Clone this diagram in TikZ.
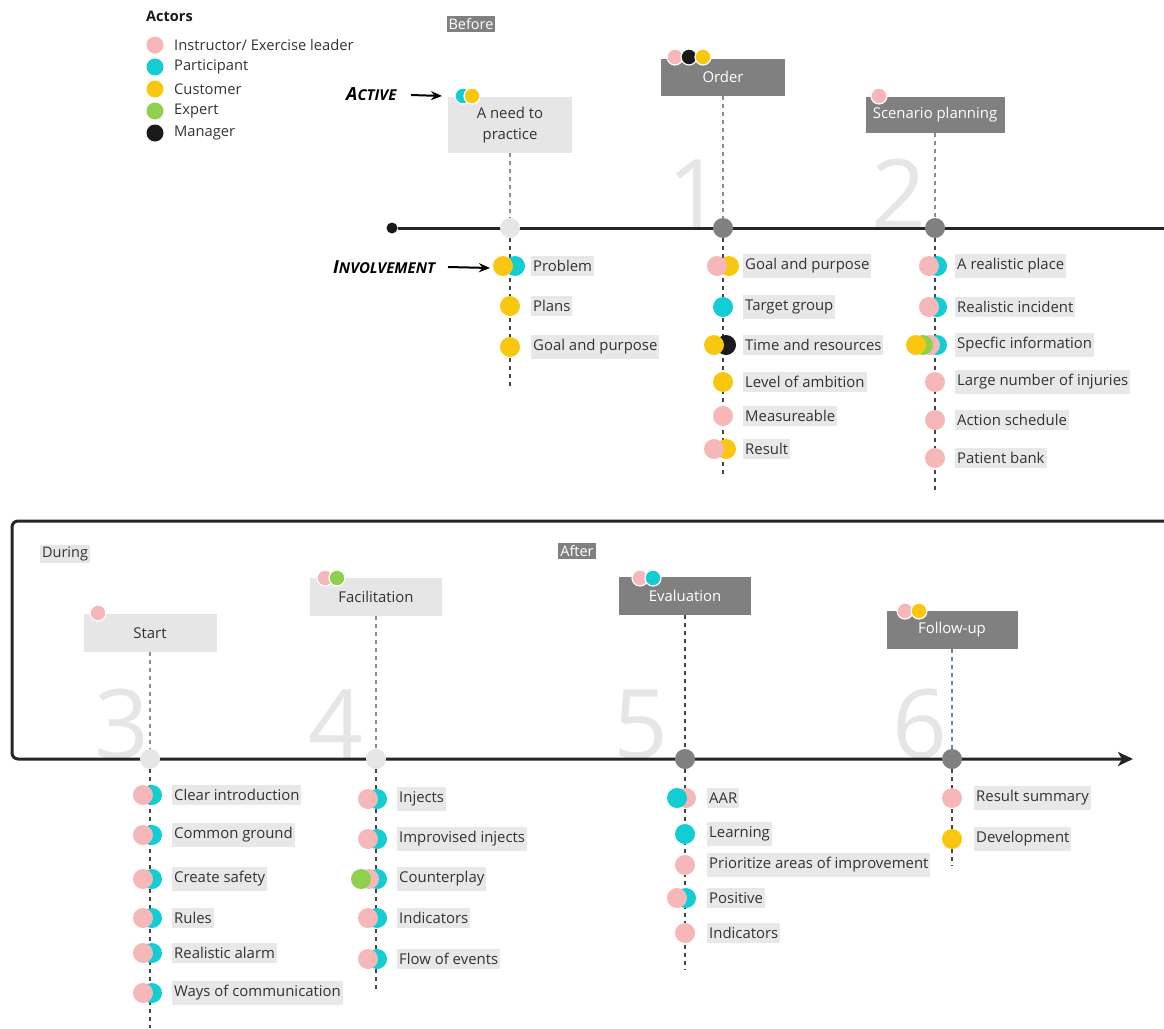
\documentclass[tikz,border=0pt]{standalone}
\usepackage{fontspec}
\setmainfont{Open Sans}
\usetikzlibrary{arrows.meta,positioning}
\definecolor{instr}{HTML}{F5B7B7}
\definecolor{partic}{HTML}{13CDD4}
\definecolor{custom}{HTML}{FAC710}
\definecolor{expert}{HTML}{8FD14F}
\definecolor{manag}{HTML}{1A1A1A}
\definecolor{boxlight}{HTML}{E6E6E6}
\definecolor{boxdark}{HTML}{808080}
\definecolor{labelbg}{HTML}{E8E8E8}
\definecolor{numgray}{HTML}{E6E6E6}
\definecolor{ink}{HTML}{333333}
\definecolor{stemlight}{HTML}{8C8C8C}
\definecolor{stemdark}{HTML}{444444}
\definecolor{stemblue}{HTML}{5E8E9E}
\newcommand{\labelfont}{\fontsize{14.9}{21}\selectfont}
\newcommand{\scrib}[2]{{\fontsize{18}{18}\selectfont #1}{\fontsize{15}{15}\selectfont #2}}
\newcommand{\actorset}[6][actor]{%
  \foreach \c [count=\i] in {#6}{%
    \node[#1, fill=\c] (#2-\i) at ({#3+(\i-1)*#5}, #4) {};
  }%
}
\tikzset{
  actor/.style={circle, inner sep=0pt, minimum size=20pt},
  tagactor/.style={actor, minimum size=16pt, draw=white, line width=1.2pt},
  lightbox/.style={fill=boxlight, text=ink, inner sep=0pt, align=center, font=\labelfont},
  darkbox/.style={fill=boxdark, text=white, inner sep=0pt, align=center, font=\labelfont},
  itemlabel/.style={fill=labelbg, text=ink, anchor=west, inner xsep=2pt, inner ysep=4.5pt, font=\labelfont},
  markerlight/.style={circle, fill=boxlight, minimum size=20pt, inner sep=0pt},
  markerdark/.style={markerlight, fill=boxdark},
  stem/.style={dash pattern=on 4pt off 4pt, line width=1.3pt, draw=#1},
  stem/.default=stemdark,
  timeline/.style={line width=3pt, draw=manag!95},
  bignum/.style={text=numgray, font=\fontsize{96}{96}\selectfont, anchor=base, inner sep=0pt},
  phase/.style={inner sep=2pt, font=\fontsize{14.5}{16}\selectfont},
  scribble/.style={font=\bfseries\itshape, anchor=west, inner sep=0pt},
  pointer/.style={-{Stealth[length=11pt,width=9pt]}, line width=2pt},
}

\begin{document}
\begin{tikzpicture}[x=1pt,y=-1pt]
  \useasboundingbox (0,0) rectangle (1164,1028);

  % legend
  \node[anchor=west, inner sep=0pt, font=\bfseries\fontsize{14.5}{16}\selectfont, text=manag] (actors) at (146,16) {Actors};
  \foreach \c/\t [count=\i] in {instr/{Instructor/ Exercise leader}, partic/Participant, custom/Customer, expert/Expert, manag/Manager}{
    \node[actor, minimum size=17pt, fill=\c] (leg-\i) at (155, {45+(\i-1)*22}) {};
    \node[anchor=west, inner sep=0pt, text=ink, font=\fontsize{14.7}{16}\selectfont] (legtxt-\i) at (174, {45+(\i-1)*22}) {\t};
  }

  % phase tags
  \node[phase, fill=boxdark, text=white] (before) at (471,24) {Before};
  \node[phase, fill=boxlight, text=ink] (during) at (65,554) {During};
  \node[phase, fill=boxdark, text=white] (after) at (577,551) {After};

  % big step numbers
  \node[bignum] (n1) at (695,228) {1};
  \node[bignum] (n2) at (899,228) {2};
  \node[bignum] (n3) at (122,758) {3};
  \node[bignum] (n4) at (336,758) {4};
  \node[bignum] (n5) at (641,758) {5};
  \node[bignum] (n6) at (920,758) {6};

  % timeline
  \coordinate (tR) at (1170,228);
  \coordinate (bTR) at (1170,521);
  \coordinate (bTL) at (12,521);
  \coordinate (bBL) at (12,759);
  \coordinate (bEnd) at (1133,759);
  \node[circle, fill=manag, minimum size=11pt, inner sep=0pt] (t0) at (392,228) {};
  \draw[timeline] (t0) -- (tR);
  \draw[timeline, rounded corners=6pt, -{Stealth[length=15pt,width=14pt,inset=4pt]}] (bTR) -- (bTL) -- (bBL) -- (bEnd);

  % stage boxes
  \node[lightbox, minimum width=124pt, minimum height=56pt] (need) at (510,125) {A need to\\practice};
  \node[darkbox, minimum width=124pt, minimum height=37pt] (order) at (723,77) {Order};
  \node[darkbox, minimum width=139pt, minimum height=36pt] (scen) at (935,114.5) {Scenario planning};
  \node[lightbox, minimum width=133pt, minimum height=38pt] (start) at (150,633) {Start};
  \node[lightbox, minimum width=132pt, minimum height=38pt] (facil) at (376,597) {Facilitation};
  \node[darkbox, minimum width=132pt, minimum height=38pt] (eval) at (685,596) {Evaluation};
  \node[darkbox, minimum width=131pt, minimum height=38pt] (follow) at (952,630) {Follow-up};

  % markers on the timeline
  \node[markerlight] (m0) at (510,228) {};
  \node[markerdark] (m1) at (723,228) {};
  \node[markerdark] (m2) at (935,228) {};
  \node[markerlight] (m3) at (150,759) {};
  \node[markerlight] (m4) at (376,759) {};
  \node[markerdark] (m5) at (685,759) {};
  \node[markerdark] (m6) at (952,759) {};

  \coordinate (e0) at (510,390);
  \coordinate (e1) at (723,476);
  \coordinate (e2) at (935,492);
  \coordinate (e3) at (150,1028);
  \coordinate (e4) at (376,990);
  \coordinate (e5) at (685,970);
  \coordinate (e6) at (952,866);

  \draw[stem=stemlight] (need) -- (m0);
  \draw[stem=stemlight] (order) -- (m1);
  \draw[stem=stemlight] (scen) -- (m2);
  \draw[stem=stemlight] (start) -- (m3);
  \draw[stem=stemlight] (facil) -- (m4);
  \draw[stem] (eval) -- (m5);
  \draw[stem=stemblue] (follow) -- (m6);
  \foreach \k in {0,...,6}{ \draw[stem] (m\k) -- (e\k); }

  % who is active
  \actorset[tagactor]{hNeed}{463}{96}{9}{partic,custom}
  \actorset[tagactor]{hOrder}{675}{57}{14}{instr,manag,custom}
  \actorset[tagactor]{hScen}{879}{96}{0}{instr}
  \actorset[tagactor]{hStart}{98}{613}{0}{instr}
  \actorset[tagactor]{hFacil}{325}{578}{12}{instr,expert}
  \actorset[tagactor]{hEval}{640}{578}{13}{instr,partic}
  \actorset[tagactor]{hFollow}{905}{611}{14}{instr,custom}

  \node[scribble] (active) at (346,94) {\scrib{A}{CTIVE}};
  \coordinate (activeTip) at (442,96);
  \draw[pointer] (411,95) -- (activeTip);
  \node[scribble] (invol) at (333,267) {\scrib{I}{NVOLVEMENT}};
  \coordinate (involTip) at (490,268);
  \draw[pointer] (448,267) -- (involTip);

  % 0: a need to practice
  \actorset{pA}{515}{266}{-12}{partic,custom}
  \actorset{pB}{510}{306}{0}{custom}
  \actorset{pC}{510}{347}{0}{custom}
  \node[itemlabel] (problem) at (531,266) {Problem};
  \node[itemlabel] (plans) at (531,306) {Plans};
  \node[itemlabel] (goalA) at (531,347) {Goal and purpose};

  % 1: order
  \actorset{oA}{729}{266}{-12}{custom,instr}
  \actorset{oB}{723}{307}{0}{partic}
  \actorset{oC}{726}{345}{-12}{manag,custom}
  \actorset{oD}{723}{382}{0}{custom}
  \actorset{oE}{723}{416}{0}{instr}
  \actorset{oF}{726}{449}{-12}{custom,instr}
  \node[itemlabel] (goalB) at (743,266) {Goal and purpose};
  \node[itemlabel] (target) at (743,307) {Target group};
  \node[itemlabel] (time) at (743,345) {Time and resources};
  \node[itemlabel] (ambition) at (743,382) {Level of ambition};
  \node[itemlabel] (measure) at (743,416) {Measureable};
  \node[itemlabel] (result) at (743,449) {Result};

  % 2: scenario planning
  \actorset{sA}{937}{266}{-8}{partic,instr}
  \actorset{sB}{937}{307}{-8}{partic,instr}
  \actorset{sC}{937}{345}{-7}{partic,instr,expert,custom}
  \actorset{sD}{935}{382}{0}{instr}
  \actorset{sE}{935}{420}{0}{instr}
  \actorset{sF}{935}{458}{0}{instr}
  \node[itemlabel] (place) at (955,266) {A realistic place};
  \node[itemlabel] (incident) at (955,307) {Realistic incident};
  \node[itemlabel] (info) at (955,345) {Specfic information};
  \node[itemlabel] (injuries) at (955,382) {Large number of injuries};
  \node[itemlabel] (schedule) at (955,420) {Action schedule};
  \node[itemlabel] (bank) at (955,458) {Patient bank};

  % 3: start
  \foreach \yy [count=\i] in {795,835,879,918,953,993}{ \actorset{st\i}{152}{\yy}{-9}{partic,instr} }
  \node[itemlabel] (intro) at (172,795) {Clear introduction};
  \node[itemlabel] (ground) at (172,835) {Common ground};
  \node[itemlabel] (safety) at (172,879) {Create safety};
  \node[itemlabel] (rules) at (172,918) {Rules};
  \node[itemlabel] (alarm) at (172,953) {Realistic alarm};
  \node[itemlabel] (comms) at (172,993) {Ways of communication};

  % 4: facilitation
  \actorset{fA}{377}{799}{-9}{partic,instr}
  \actorset{fB}{377}{839}{-9}{partic,instr}
  \actorset{fC}{377}{879}{-8}{partic,instr,expert}
  \actorset{fD}{377}{918}{-9}{partic,instr}
  \actorset{fE}{377}{959}{-9}{partic,instr}
  \node[itemlabel] (injects) at (397,799) {Injects};
  \node[itemlabel] (improv) at (397,839) {Improvised injects};
  \node[itemlabel] (counter) at (397,879) {Counterplay};
  \node[itemlabel] (indicA) at (397,918) {Indicators};
  \node[itemlabel] (flow) at (397,959) {Flow of events};

  % 5: evaluation
  \actorset{vA}{686}{798}{-9}{instr,partic}
  \actorset{vB}{685}{834}{0}{partic}
  \actorset{vC}{685}{865}{0}{instr}
  \actorset{vD}{686}{898}{-9}{partic,instr}
  \actorset{vE}{685}{933}{0}{instr}
  \node[itemlabel] (aar) at (707,798) {AAR};
  \node[itemlabel] (learning) at (707,834) {Learning};
  \node[itemlabel] (priority) at (707,865) {Prioritize areas of improvement};
  \node[itemlabel] (positive) at (707,898) {Positive};
  \node[itemlabel] (indicB) at (707,933) {Indicators};

  % 6: follow-up
  \actorset{uA}{952}{798}{0}{instr}
  \actorset{uB}{952}{839}{0}{custom}
  \node[itemlabel] (summary) at (974,798) {Result summary};
  \node[itemlabel] (develop) at (974,839) {Development};
\end{tikzpicture}
\end{document}
